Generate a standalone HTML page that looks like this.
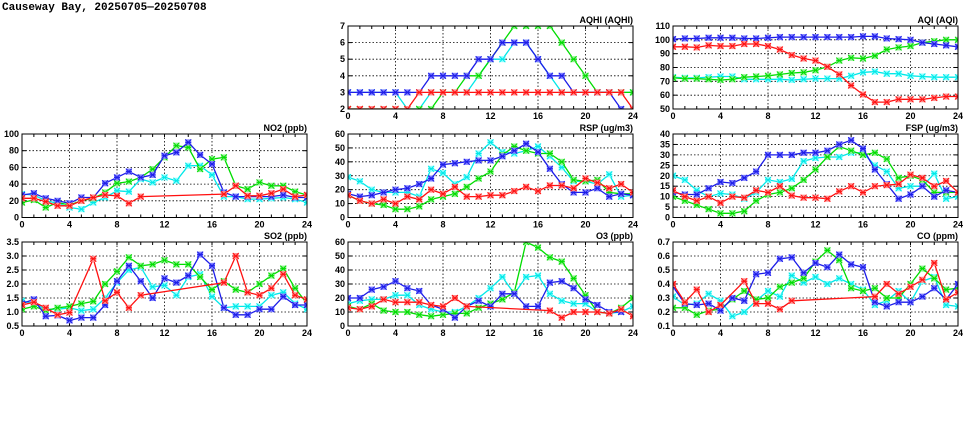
<!DOCTYPE html>
<html><head><meta charset="utf-8">
<style>
body{margin:0;background:#fff;width:975px;height:447px;overflow:hidden}
svg{display:block}
text{font-family:"Liberation Sans",sans-serif;font-weight:bold;font-size:9px;fill:#000}
</style></head>
<body>
<svg id="chart" width="975" height="447" viewBox="0 0 975 447">
<text x="2" y="10" style="font-family:'Liberation Mono',monospace;font-size:11px">Causeway Bay, 20250705—20250708</text>
</svg>
<script>
const hours=[0,1,2,3,4,5,6,7,8,9,10,11,12,13,14,15,16,17,18,19,20,21,22,23,24];
const N=null;
// AQHI
const aqhiCyan=[3,3,3,3,3,2,2,3,3,3,3,4,5,5,6,6,5,4,3,3,3,3,3,3,3];
const aqhiGreen=[2,2,2,2,2,2,2,2,3,3,4,4,5,6,7,7,7,7,6,5,4,3,3,3,3];
const aqhiBlue=[3,3,3,3,3,3,3,4,4,4,4,5,5,6,6,6,5,4,4,3,3,3,3,2,1.8];
const aqhiRed=[2,2,2,2,2,2,3,3,3,3,3,3,3,3,3,3,3,3,3,3,3,3,3,3,2];
// AQI
const aqiCyan=[73,72.5,72.5,73,73.5,73.5,71.5,71.5,71.5,71.5,71,71.5,72,72,72,74,76.5,77,75.5,75.5,74,73.5,73,73,73];
const aqiGreen=[72.5,72,72,71.5,71,71.5,73,73.5,74,75,76,76.5,78,80.5,85,87,86.5,88.5,93,94.5,95.5,98,99,100,100];
const aqiBlue=[100.5,101,101,101.5,101.5,101.5,101,101,101.5,102,102,102,102,102,102,102,102.5,102.5,101,100.5,100,98,97,96,95];
const aqiRed=[95,95,94.5,96,95.5,95.5,97,97,95.5,93,89,86.5,85,80.5,75,67,60.5,55,55,57,57,57,58,59,59];
// NO2
const no2Cyan=[28,27,20,17,12,10,18,24,32,31,46,42,48,44,62,62,51,25,25,22,22,23,24,22,18];
const no2Green=[18,21,12,18,15,20,23,30,41,43,48,58,72,86,84,58,70,72,38,34,42,38,38,31,27];
const no2Blue=[27,29,23,20,17,24,24,41,48,55,48,51,74,78,90,75,64,30,25,25,25,25,27,24,24];
const no2Red=[23,23,19,14,14,20,24,27,26,17,25,N,N,N,N,N,N,28,38,26,26,29,34,25,27];
// RSP
const rspCyan=[29,26,20,18,18,18,15,35,32,24,29,46,54,47,46,48,51,44,36,26,26,24,31,15,16];
const rspGreen=[16,12,10,9,6,6,8,13,15,17,22,28,33,45,51,48,46,46,40,27,26,27,18,17,17];
const rspBlue=[17,15,16,18,20,21,24,28,38,39,40,41,41,44,48,53,47,35,24,18,18,21,15,17,16];
const rspRed=[16,12,10,13,10,15,13,20,17,22,15,15,16,16,19,22,19,23,23,21,28,25,21,24,18];
// FSP
const fspCyan=[20,18,13,10,11.5,11,9,12,18,17,18.5,27,28.5,29,29,31,31,25,22,14,15,15,21,9,10];
const fspGreen=[10,8,6,4,2,2,3,8,11,12,14,18,23,29,34,32,30,31,28,19,20,18,12,12,12];
const fspBlue=[12,11,11,14,17,16.5,19,22,30,30,30,31,31,32,35,37,33,23,16,9,11,15,10,13,12];
const fspRed=[13,10,8,10,7,10,9.5,13,12,15,10.5,9.5,9.5,9,12.5,15,12,15,15.5,16,20.5,19,15,17.5,12];
// SO2
const so2Cyan=[1.4,1.3,1.1,1.1,1.15,1.05,1.1,1.5,2.05,2.5,2.6,1.9,1.95,1.6,2.25,2.35,1.55,1.15,1.2,1.2,1.2,1.6,1.7,1.3,1.1];
const so2Green=[1.1,1.2,1.05,1.15,1.2,1.3,1.38,2.0,2.45,2.95,2.65,2.7,2.85,2.7,2.7,2.25,1.8,2.1,1.8,1.7,2.0,2.3,2.55,1.85,1.3];
const so2Blue=[1.3,1.45,0.85,0.88,0.7,0.8,0.8,1.25,2.1,2.65,2.1,1.5,2.2,2.05,2.3,3.05,2.65,1.15,0.9,0.9,1.1,1.1,1.55,1.25,1.25];
const so2Red=[1.25,1.35,1.15,0.9,0.98,N,2.9,1.4,1.7,1.15,1.6,N,N,N,N,N,N,2.05,3.0,1.7,1.6,1.85,2.35,1.6,1.45];
// O3
const o3Cyan=[16,18,19,19,22,22,15,12,10,10,14,20,27,35,23,35,36,23,18,16,16,10,9,10,14];
const o3Green=[14,12,16,11,10,10,8,7,8,9,9,13,16,19,24,60,56,49,46,34,22,10,9,13,20];
const o3Blue=[20,20,26,28,32,27,25,15,12,6,14,18,14,23,23,14,14,31,32,27,19,15,10,10,N];
const o3Red=[13,12,14,19,17,17,17,15,14,20,14,N,N,N,N,N,N,11,6,10,10,10,9,12,7];
// CO
const coCyan=[0.31,0.25,0.26,0.33,0.28,0.17,0.20,0.28,0.35,0.31,0.46,0.41,0.45,0.40,0.44,0.40,0.36,0.25,0.28,0.35,0.27,0.42,0.45,0.25,0.24];
const coGreen=[0.23,0.23,0.18,0.21,0.22,0.29,0.35,0.29,0.30,0.38,0.41,0.44,0.56,0.64,0.57,0.37,0.35,0.37,0.30,0.30,0.40,0.51,0.44,0.36,0.37];
const coBlue=[0.38,0.26,0.25,0.26,0.21,0.30,0.28,0.47,0.48,0.58,0.59,0.48,0.55,0.52,0.61,0.54,0.52,0.27,0.24,0.27,0.27,0.31,0.37,0.29,0.40];
const coRed=[0.40,0.27,0.36,0.20,0.25,N,0.42,0.26,0.26,0.22,0.28,N,N,N,N,N,N,0.31,0.40,0.33,0.38,0.43,0.55,0.29,0.34];
const xTicks=[0,4,8,12,16,20,24];

const panels=[
 {id:'aqhi',title:'AQHI (AQHI)',x:348,y:26,h:83,min:2,max:7,step:1,dec:0,s:[aqhiCyan,aqhiGreen,aqhiBlue,aqhiRed]},
 {id:'aqi',title:'AQI (AQI)',x:673,y:26,h:83,min:50,max:110,step:10,dec:0,s:[aqiCyan,aqiGreen,aqiBlue,aqiRed]},
 {id:'no2',title:'NO2 (ppb)',x:22,y:134,h:83.5,min:0,max:100,step:20,dec:0,s:[no2Cyan,no2Green,no2Blue,no2Red]},
 {id:'rsp',title:'RSP (ug/m3)',x:348,y:134,h:83.5,min:0,max:60,step:10,dec:0,s:[rspCyan,rspGreen,rspBlue,rspRed]},
 {id:'fsp',title:'FSP (ug/m3)',x:673,y:134,h:83.5,min:0,max:40,step:5,dec:0,s:[fspCyan,fspGreen,fspBlue,fspRed]},
 {id:'so2',title:'SO2 (ppb)',x:22,y:242,h:84,min:0.5,max:3.5,step:0.5,dec:1,s:[so2Cyan,so2Green,so2Blue,so2Red]},
 {id:'o3',title:'O3 (ppb)',x:348,y:242,h:84,min:0,max:60,step:10,dec:0,s:[o3Cyan,o3Green,o3Blue,o3Red]},
 {id:'co',title:'CO (ppm)',x:673,y:242,h:84,min:0.1,max:0.7,step:0.1,dec:1,s:[coCyan,coGreen,coBlue,coRed]}
];
const colors=['#00e8e8','#00dd00','#1c1ce8','#ff1010'];
const light=['#90ffff','#90f090','#8080ff','#ff9090'];
const names=['cyan','green','blue','red'];
const W=285;
const svg=document.getElementById('chart');
const NS='http://www.w3.org/2000/svg';
function mk(tag,attrs,parent){const e=document.createElementNS(NS,tag);for(const k in attrs)e.setAttribute(k,attrs[k]);(parent||svg).appendChild(e);return e;}

panels.forEach(p=>{
  const g=mk('g',{});
  
  
  const sx=v=>p.x+v/24*W;
  const sy=v=>p.y+p.h-(v-p.min)/(p.max-p.min)*p.h;
  const cp=mk('clipPath',{id:'clip-'+p.id},g);
  mk('rect',{x:p.x,y:p.y,width:W,height:p.h},cp);
  // grid
  const nY=Math.round((p.max-p.min)/p.step);
  for(let i=0;i<=nY;i++){
    const v=p.min+i*p.step, y=sy(v);
    if(i>0&&i<nY){const l=mk('line',{x1:p.x,x2:p.x+W,y1:y,y2:y,stroke:'#000','stroke-width':0.8,'stroke-dasharray':'1.5,2'},g);
      }
    mk('line',{x1:p.x,x2:p.x+4,y1:y,y2:y,stroke:'#000'},g);
    mk('line',{x1:p.x+W-4,x2:p.x+W,y1:y,y2:y,stroke:'#000'},g);
    const t=mk('text',{x:p.x-3,y:y+3,'text-anchor':'end'},g);
    t.textContent=v.toFixed(p.dec);
    
  }
  xTicks.forEach(h=>{
    const x=sx(h);
    if(h>0&&h<24){const l=mk('line',{x1:x,x2:x,y1:p.y,y2:p.y+p.h,stroke:'#000','stroke-width':0.8,'stroke-dasharray':'1.5,2'},g);
      }
    const t=mk('text',{x:x,y:p.y+p.h+10,'text-anchor':'middle'},g);
    t.textContent=h;
    
  });
  hours.forEach(h=>{const x=sx(h);mk('line',{x1:x,x2:x,y1:p.y+p.h,y2:p.y+p.h-3,stroke:'#000'},g);mk('line',{x1:x,x2:x,y1:p.y,y2:p.y+3,stroke:'#000'},g);});
  const tt=mk('text',{x:p.x+W,y:p.y-3,'text-anchor':'end'},g);
  tt.textContent=p.title;
  
  // series
  p.s.forEach((arr,si)=>{
    const sg=mk('g',{'clip-path':'url(#clip-'+p.id+')'},g);
    
    
    let d='';
    arr.forEach((v,i)=>{if(v===null)return;d+=(d?'L':'M')+sx(hours[i]).toFixed(1)+','+sy(v).toFixed(1);});
    mk('path',{d:d,fill:'none',stroke:colors[si],'stroke-width':1.3},sg);
    arr.forEach((v,i)=>{
      if(v===null)return;
      const x=sx(hours[i]),y=sy(v);
      const m=mk('g',{},sg);
      
      
      mk('rect',{x:x-3,y:y-3,width:6,height:6,fill:light[si]},m);
      mk('path',{d:`M${x-3},${y-3}L${x+3},${y+3}M${x-3},${y+3}L${x+3},${y-3}M${x-3},${y}L${x+3},${y}`,stroke:colors[si],'stroke-width':1},m);
    });
  });
  const fr=mk('rect',{x:p.x,y:p.y,width:W,height:p.h,fill:'none',stroke:'#000','stroke-width':1},g);
  
});
</script>
</body></html>
